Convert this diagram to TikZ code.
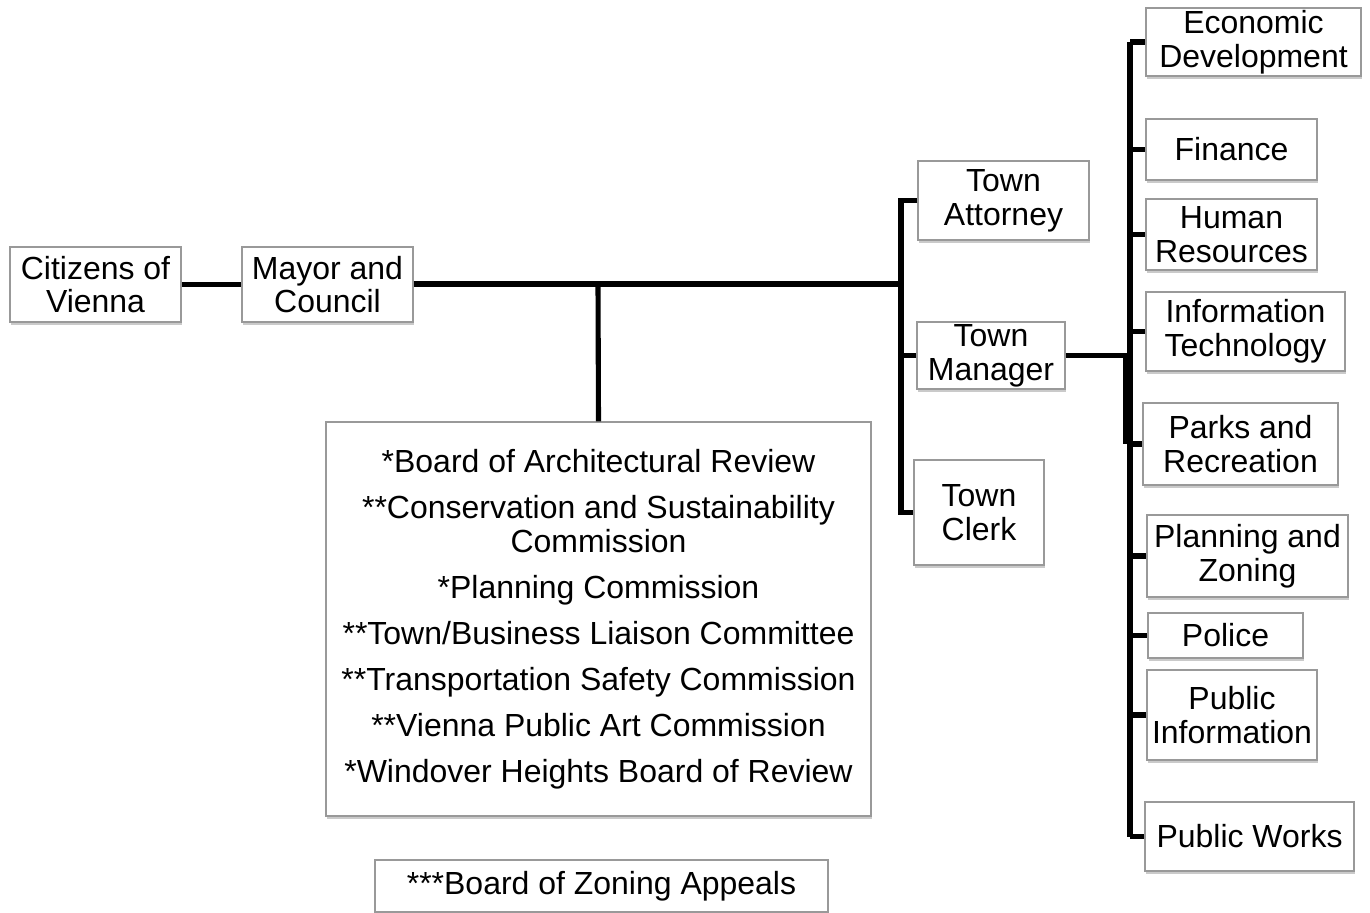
\documentclass[tikz,border=0pt]{standalone}
\usepackage{fontspec}
\setmainfont{Liberation Sans}
\usepackage{tikz}
\usetikzlibrary{shadows}

\tikzset{
	box/.style={draw=gray!80, line width=0.7pt, fill=white, align=center, inner sep=0pt,
		font=\fontsize{18.2}{19.2}\selectfont,
		drop shadow={shadow xshift=0.6pt, shadow yshift=-1.6pt, fill=gray!70, opacity=0.6}},
	link/.style={line width=2.9pt, line join=miter}
}

\begin{document}
\begin{tikzpicture}[x=0.02cm, y=-0.02cm]
	\useasboundingbox (0, 0) rectangle (1370, 913);

	% left side
	\node[box, minimum width=3.42cm, minimum height=1.5cm] (cit) at (95.5, 284.5) {Citizens of\\Vienna};
	\node[box, minimum width=3.42cm, minimum height=1.5cm] (may) at (327.5, 284.5) {Mayor and\\Council};

	\node[box, minimum width=10.9cm, minimum height=7.88cm] (brd) at (598.5, 619) {*Board of Architectural Review\\[7pt]
		**Conservation and Sustainability\\Commission\\[7pt]
		*Planning Commission\\[7pt]
		**Town/Business Liaison Committee\\[7pt]
		**Transportation Safety Commission\\[7pt]
		**Vienna Public Art Commission\\[7pt]
		*Windover Heights Board of Review};
	\node[box, minimum width=9.06cm, minimum height=1.04cm] (zba) at (601.5, 886) {***Board of Zoning Appeals};

	% town officers
	\node[box, minimum width=3.42cm, minimum height=1.58cm] (att) at (1003.5, 200.5) {Town\\Attorney};
	\node[box, minimum width=2.96cm, minimum height=1.34cm] (man) at (991, 355.5) {Town\\Manager};
	\node[box, minimum width=2.6cm, minimum height=2.1cm] (clk) at (979, 512.5) {Town\\Clerk};

	% departments
	\node[box, minimum width=4.3cm, minimum height=1.36cm] (eco) at (1253.5, 42) {Economic\\Development};
	\node[box, minimum width=3.42cm, minimum height=1.22cm] (fin) at (1231.5, 149.5) {Finance};
	\node[box, minimum width=3.42cm, minimum height=1.42cm] (hr) at (1231.5, 234.5) {Human\\Resources};
	\node[box, minimum width=3.98cm, minimum height=1.58cm] (it) at (1245.5, 331.5) {Information\\Technology};
	\node[box, minimum width=3.9cm, minimum height=1.64cm] (prk) at (1240.5, 444) {Parks and\\Recreation};
	\node[box, minimum width=4.02cm, minimum height=1.64cm] (plz) at (1247.5, 556) {Planning and\\Zoning};
	\node[box, minimum width=3.1cm, minimum height=0.9cm] (pol) at (1225.5, 635.5) {Police};
	\node[box, minimum width=3.4cm, minimum height=1.8cm] (pin) at (1232, 715) {Public\\Information};
	\node[box, minimum width=4.18cm, minimum height=1.38cm] (pwk) at (1249.5, 836.5) {Public Works};

	\coordinate (jb) at (598, 284);
	\coordinate (jt) at (901, 284);
	\coordinate (rb) at (1130, 0);
	\coordinate (rb2) at (1126, 0);

	\draw[link] (cit.east) -- (may.west);
	\draw[link] (may.east |- jt) -- (jt);
	\draw[link] (jb) -- (brd.north);

	\draw[link] (att.west) -- (att.west -| jt) -- (clk.west -| jt) -- (clk.west);
	\draw[link] (man.west) -- (man.west -| jt);

	\draw[link] (man.east) -- (man.east -| rb);
	\draw[link] (eco.west -| rb) -- (pwk.west -| rb);
	\draw[link] (man.east -| rb2) -- (prk.west -| rb2);
	\foreach \d in {eco, fin, hr, it, prk, plz, pol, pin, pwk}
		\draw[link] (\d.west -| rb) -- (\d.west);

\end{tikzpicture}
\end{document}
